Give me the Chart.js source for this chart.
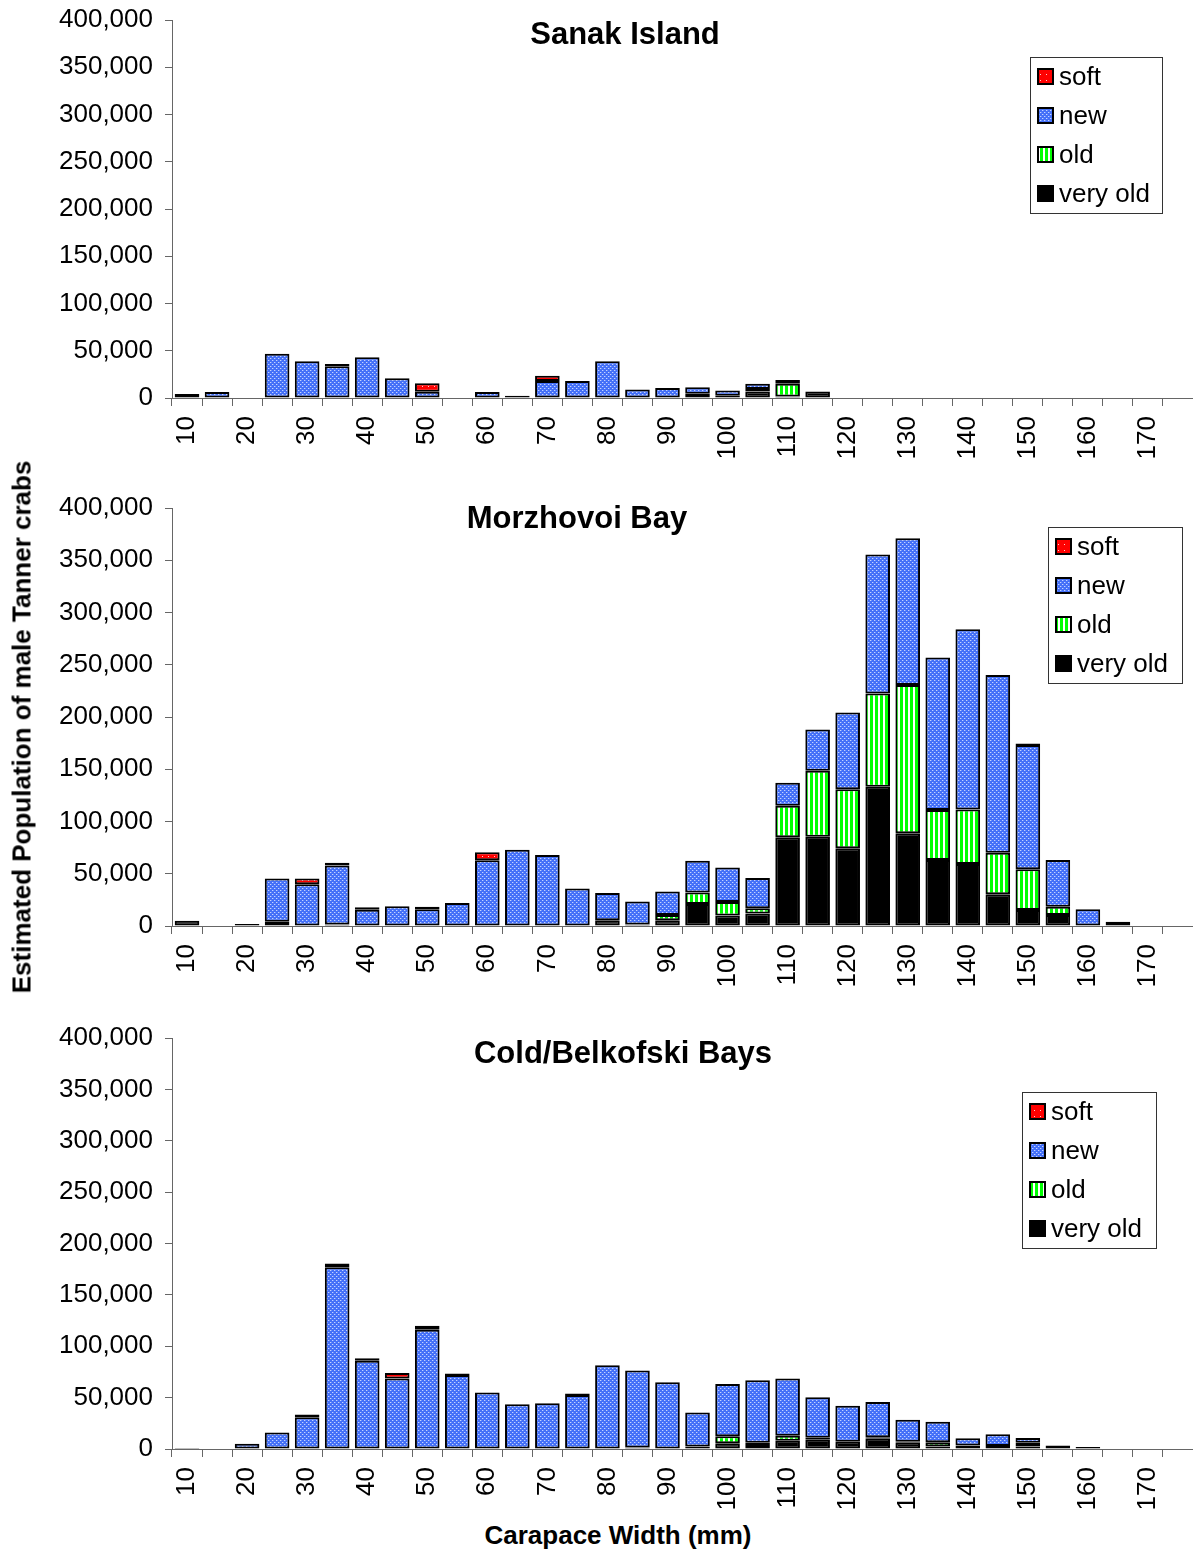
<!DOCTYPE html>
<html>
<head>
<meta charset="utf-8">
<script src="https://cdn.jsdelivr.net/npm/chart.js@4.4.1/dist/chart.umd.min.js"></script>
<style>
  body { margin: 0; background: #fff; }
  #wrap { position: relative; width: 1193px; height: 1553px; font-family: "Liberation Sans", Arial, sans-serif; }
  canvas { position: absolute; left: 0; }
  .axisTitle { position: absolute; font-weight: bold; font-size: 26px; white-space: nowrap; color: #000; }
  #ytitle { left: 22px; top: 727px; transform: translate(-50%, -50%) rotate(-90deg); }
  #xtitle { left: 618px; top: 1535px; transform: translate(-50%, -50%); }
</style>
</head>
<body>
<div id="wrap">
  <canvas id="sanak" style="top:0px" width="1193" height="470"></canvas>
  <canvas id="morz" style="top:470px" width="1193" height="530"></canvas>
  <canvas id="cold" style="top:1000px" width="1193" height="515"></canvas>
  <div class="axisTitle" id="ytitle">Estimated Population of male Tanner crabs</div>
  <div class="axisTitle" id="xtitle">Carapace Width (mm)</div>
</div>
<script>
// carapace width classes (mm)
const widths = [10,15,20,25,30,35,40,45,50,55,60,65,70,75,80,85,90,95,100,105,110,115,120,125,130,135,140,145,150,155,160,165,170,175];
const xLabels = widths.map(w => (w % 10 === 0 ? String(w) : ''));

// Sanak Island
const sanakVeryOld = [0,0,0,0,0,0,0,0,0,0, 0,2500,0,0,0,0,0,1000,2500,7000, 1500,7000,0,0,0,0,0,0,0,0, 0,0,0,0];
const sanakOld     = [0,0,0,0,0,0,0,0,0,0, 0,0,0,0,0,0,0,3500,0,2500, 13500,0,0,0,0,0,0,0,0,0, 0,0,0,0];
const sanakNew     = [4300,6400,0,46900,39000,33500,43000,20800,6500,0, 6400,0,18000,17900,39000,9000,10700,7000,5500,5500, 4000,0,0,0,0,0,0,0,0,0, 0,0,0,0];
const sanakSoft    = [0,0,0,0,0,2500,0,0,9000,0, 0,0,5500,0,0,0,0,0,0,0, 0,0,0,0,0,0,0,0,0,0, 0,0,0,0];

// Morzhovoi Bay
const morzVeryOld = [5000,0,2000,1000,0,1500,0,0,0,0, 0,0,0,0,5500,1500,5500,21000,10000,12000, 85000,85500,74300,133300,88700,63200,59300,30300,15300,10500, 0,0,0,0];
const morzOld     = [0,0,0,3000,0,0,0,0,0,0, 0,0,0,0,0,0,5000,11000,13000,5000, 30000,63000,56500,89300,142000,47900,52300,39900,38900,8000, 0,0,0,0];
const morzNew     = [0,0,0,41500,40000,56500,15500,19000,16000,22000, 63000,73000,68000,36000,26000,22000,22500,30500,33000,29000, 22000,39500,73400,133000,140400,145800,172300,170000,119000,44700, 16000,4000,0,0];
const morzSoft    = [0,0,0,0,5500,2500,2500,0,2500,0, 7500,0,0,0,0,0,0,0,0,0, 0,0,0,0,0,0,0,0,1500,0, 0,0,0,0];

// Cold/Belkofski Bays
const coldVeryOld = [1000,0,0,0,0,0,0,0,0,0, 0,0,0,0,0,1500,0,2500,5500,4000, 8000,9000,7000,10000,6000,2500,3500,3000,2500,3500, 2000,0,0,0];
const coldOld     = [0,0,0,0,0,0,0,0,0,0, 0,0,0,0,0,0,0,0,7000,2000, 5000,2000,0,1500,1000,4000,0,0,3500,0, 0,0,0,0];
const coldNew     = [0,0,5000,16000,31000,177000,85800,68500,116000,72000, 55000,43500,44500,52500,81500,75000,65000,33000,50700,60800, 55700,39300,35000,34200,21500,20000,7000,11300,4700,0, 0,0,0,0];
const coldSoft    = [0,0,0,0,2500,3500,2500,5500,4000,1500, 0,0,0,1500,0,0,0,0,0,0, 0,0,0,0,0,0,0,0,0,0, 0,0,0,0];

const FONT = '"Liberation Sans", Arial, sans-serif';

function makePattern(w, h, draw) {
  const c = document.createElement('canvas');
  c.width = w; c.height = h;
  const g = c.getContext('2d');
  draw(g);
  return g.createPattern(c, 'repeat');
}

const newFill = makePattern(4, 4, g => {
  g.fillStyle = '#4470f8'; g.fillRect(0, 0, 4, 4);
  g.fillStyle = '#c4d2ff'; g.fillRect(0, 0, 1, 1); g.fillRect(2, 2, 1, 1);
  g.fillStyle = '#7094fb'; g.fillRect(1, 0, 1, 1); g.fillRect(3, 2, 1, 1);
});
const oldFill = makePattern(5, 1, g => {
  g.fillStyle = '#ffffff'; g.fillRect(0, 0, 5, 1);
  g.fillStyle = '#00ff00'; g.fillRect(0, 0, 3, 1);
});
const softFill = makePattern(6, 6, g => {
  g.fillStyle = '#ff0000'; g.fillRect(0, 0, 6, 6);
  g.fillStyle = '#ffd0d0'; g.fillRect(2, 2, 1, 1);
});

const panelDecor = {
  id: 'panelDecor',
  afterDraw(chart, args, o) {
    const ctx = chart.ctx;
    ctx.save();
    ctx.fillStyle = '#000';
    ctx.font = 'bold 31px ' + FONT;
    ctx.textAlign = 'center';
    ctx.textBaseline = 'middle';
    ctx.fillText(o.title, o.titleX, o.titleY);

    const b = o.box;
    ctx.fillStyle = '#fff';
    ctx.fillRect(b.x, b.y, b.w, b.h);
    ctx.strokeStyle = '#333';
    ctx.lineWidth = 1;
    ctx.strokeRect(b.x + 0.5, b.y + 0.5, b.w, b.h);

    ctx.font = '26px ' + FONT;
    ctx.textAlign = 'left';
    chart.data.datasets.slice().reverse().forEach((ds, i) => {
      const cy = b.y + 20 + i * 39;
      ctx.fillStyle = ds.backgroundColor;
      ctx.fillRect(b.x + 8, cy - 8, 15, 15);
      ctx.lineWidth = 2;
      ctx.strokeStyle = '#000';
      ctx.strokeRect(b.x + 8, cy - 8, 15, 15);
      ctx.fillStyle = '#000';
      ctx.fillText(ds.label, b.x + 29, cy + 1);
    });
    ctx.restore();
  }
};

const nz = arr => arr.map(v => (v === 0 ? null : v));

function makeChart(id, veryOld, old, nw, soft, padTop, xHeight, deco) {
  const bar = { borderColor: '#000', borderWidth: 2, borderSkipped: false, barPercentage: 0.82, categoryPercentage: 1.0 };
  return new Chart(document.getElementById(id), {
    type: 'bar',
    data: {
      labels: widths,
      datasets: [
        Object.assign({ label: 'very old', data: nz(veryOld), backgroundColor: '#000000' }, bar),
        Object.assign({ label: 'old', data: nz(old), backgroundColor: oldFill }, bar),
        Object.assign({ label: 'new', data: nz(nw), backgroundColor: newFill }, bar),
        Object.assign({ label: 'soft', data: nz(soft), backgroundColor: softFill }, bar)
      ]
    },
    options: {
      responsive: false,
      animation: false,
      layout: { padding: { top: padTop, left: 0, right: 0, bottom: 0 } },
      plugins: {
        legend: { display: false },
        tooltip: { enabled: false },
        panelDecor: deco
      },
      scales: {
        x: {
          stacked: true,
          offset: true,
          grid: { offset: true, drawOnChartArea: false, drawTicks: true, tickLength: 8, color: '#666' },
          border: { display: true, color: '#666', width: 1 },
          ticks: {
            autoSkip: false, maxRotation: 90, minRotation: 90, padding: 10,
            color: '#000', font: { size: 26, family: FONT },
            callback: (v, i) => xLabels[i]
          },
          afterFit: s => { s.height = xHeight; s.paddingLeft = 0; s.paddingRight = 0; }
        },
        y: {
          stacked: true,
          min: 0,
          max: 400000,
          grid: { drawOnChartArea: false, tickLength: 7, color: '#666' },
          border: { display: true, color: '#666', width: 1 },
          ticks: {
            stepSize: 50000, padding: 12, color: '#000', font: { size: 26, family: FONT },
            callback: v => v.toLocaleString('en-US')
          },
          afterFit: s => { s.width = 172; s.paddingTop = 0; s.paddingBottom = 0; }
        }
      }
    },
    plugins: [panelDecor]
  });
}

makeChart('sanak', sanakVeryOld, sanakOld, sanakNew, sanakSoft, 20, 72,
  { title: 'Sanak Island', titleX: 625, titleY: 35, box: { x: 1030, y: 57, w: 132, h: 156 } });
makeChart('morz', morzVeryOld, morzOld, morzNew, morzSoft, 38, 74,
  { title: 'Morzhovoi Bay', titleX: 577, titleY: 49, box: { x: 1048, y: 57, w: 134, h: 156 } });
makeChart('cold', coldVeryOld, coldOld, coldNew, coldSoft, 38, 66,
  { title: 'Cold/Belkofski Bays', titleX: 623, titleY: 54, box: { x: 1022, y: 92, w: 134, h: 156 } });
</script>
</body>
</html>
